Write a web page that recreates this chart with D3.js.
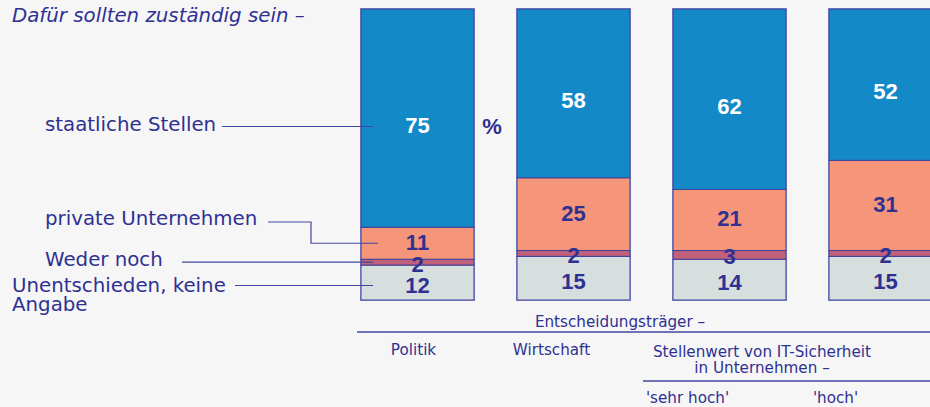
<!DOCTYPE html>
<html>
<head>
<meta charset="utf-8">
<script src="https://cdn.jsdelivr.net/npm/d3@7"></script>
<style>
  body { margin: 0; background: #f6f6f6; }
  svg { display: block; }
  text { font-family: "DejaVu Sans", sans-serif; fill: #2e3192; }
</style>
</head>
<body>
<script>
// bars: Politik, Wirtschaft, IT-Sicherheit 'sehr hoch', 'hoch'
var categories = ["Politik", "Wirtschaft", "sehr hoch", "hoch"];
var seriesNames = ["staatliche Stellen", "private Unternehmen", "Weder noch", "Unentschieden, keine Angabe"];
var staatlich = [75, 58, 62, 52];
var privat = [11, 25, 21, 31];
var weder = [2, 2, 3, 2];
var unentschieden = [12, 15, 14, 15];

var colors = ["#1489c8", "#f5967a", "#c0607a", "#d6dede"];
var ink = "#2e3192";

var W = 930, H = 407;

var svg = d3.select("body").append("svg")
    .attr("width", W)
    .attr("height", H);

svg.append("rect").attr("width", W).attr("height", H).attr("fill", "#f6f6f6");

var x = d3.scaleBand()
    .domain(categories)
    .range([361, 942])
    .paddingInner(43 / 156)
    .paddingOuter(0);

var y = d3.scaleLinear().domain([0, 100]).range([300, 9]);

// stack from top: staatlich on top, unentschieden at bottom
var rows = categories.map(function(c, i) {
    return { cat: c, s0: staatlich[i], s1: privat[i], s2: weder[i], s3: unentschieden[i] };
});
var stack = d3.stack().keys(["s3", "s2", "s1", "s0"]);
var layers = stack(rows);
var colorOf = { s0: colors[0], s1: colors[1], s2: colors[2], s3: colors[3] };
// small vertical nudge of the value labels per segment
var nudge = { s0: 7, s1: -1, s2: 2, s3: 3 };

// outer frame
svg.selectAll("rect.frame")
    .data(categories)
    .enter()
    .append("rect")
    .attr("class", "frame")
    .attr("x", function(d) { return x(d) - 0.5; })
    .attr("y", y(100) - 0.5)
    .attr("width", x.bandwidth() + 1)
    .attr("height", y(0) - y(100) + 1)
    .attr("fill", "none")
    .attr("stroke", "#9a9cce")
    .attr("stroke-width", 1);

var g = svg.selectAll("g.layer")
    .data(layers)
    .enter()
    .append("g")
    .attr("class", "layer")
    .attr("fill", function(d) { return colorOf[d.key]; });

g.selectAll("rect")
    .data(function(d) { return d; })
    .enter()
    .append("rect")
    .attr("x", function(d) { return x(d.data.cat); })
    .attr("y", function(d) { return y(d[1]); })
    .attr("width", x.bandwidth())
    .attr("height", function(d) { return y(d[0]) - y(d[1]); })
    .attr("stroke", "#3d409a")
    .attr("stroke-width", 1);

// value labels
layers.forEach(function(layer) {
    svg.selectAll(null)
        .data(layer)
        .enter()
        .append("text")
        .attr("x", function(d) { return x(d.data.cat) + x.bandwidth() / 2; })
        .attr("y", function(d) { return (y(d[0]) + y(d[1])) / 2 + nudge[layer.key]; })
        .attr("text-anchor", "middle")
        .attr("dominant-baseline", "central")
        .style("font-family", "'Liberation Sans', Arial, sans-serif")
        .style("font-weight", "bold")
        .style("font-size", "22px")
        .style("fill", layer.key == "s0" ? "#ffffff" : ink)
        .text(function(d) { return d[1] - d[0]; });
});

svg.append("text")
    .attr("x", 492).attr("y", 126)
    .attr("text-anchor", "middle")
    .attr("dominant-baseline", "central")
    .style("font-family", "'Liberation Sans', Arial, sans-serif")
    .style("font-weight", "bold")
    .style("font-size", "22px")
    .text("%");

// title
svg.append("text")
    .attr("x", 12).attr("y", 22)
    .style("font-size", "19.8px")
    .style("font-style", "italic")
    .text("Dafür sollten zuständig sein –");

// series labels with leader lines
var bx = x(categories[0]);
function mid(k) {
    var s = layers.filter(function(l) { return l.key == k; })[0][0];
    return (y(s[0]) + y(s[1])) / 2;
}

var leftLabels = [
    { t: seriesNames[0], x: 45, y: 131 },
    { t: seriesNames[1], x: 45, y: 225 },
    { t: seriesNames[2], x: 45, y: 266 },
    { t: "Unentschieden, keine", x: 12, y: 292 },
    { t: "Angabe", x: 12, y: 311 }
];
svg.selectAll("text.series")
    .data(leftLabels)
    .enter()
    .append("text")
    .attr("class", "series")
    .attr("x", function(d) { return d.x; })
    .attr("y", function(d) { return d.y; })
    .style("font-size", "19.8px")
    .text(function(d) { return d.t; });

var line = d3.line();
var leaders = [
    [[222, 126.5], [bx + 12, 126.5]],
    [[268, 222], [311, 222], [311, mid("s1")], [bx + 17, mid("s1")]],
    [[182, mid("s2")], [bx + 12, mid("s2")]],
    [[235, 285.5], [bx + 12, 285.5]]
];
svg.selectAll("path.leader")
    .data(leaders)
    .enter()
    .append("path")
    .attr("class", "leader")
    .attr("d", line)
    .attr("fill", "none")
    .attr("stroke", "#4346a0")
    .attr("stroke-width", 1.2);

// bottom axis labels
svg.append("line")
    .attr("x1", 357).attr("x2", W)
    .attr("y1", 332).attr("y2", 332)
    .attr("stroke", "#4346a0").attr("stroke-width", 1.5);
svg.append("line")
    .attr("x1", 643).attr("x2", W)
    .attr("y1", 381).attr("y2", 381)
    .attr("stroke", "#4346a0").attr("stroke-width", 1.5);

var bottomLabels = [
    { t: "Entscheidungsträger –", x: 620, y: 327 },
    { t: "Politik", x: x("Politik") + x.bandwidth() / 2 - 4, y: 355 },
    { t: "Wirtschaft", x: x("Wirtschaft") + x.bandwidth() / 2 - 22, y: 355 },
    { t: "Stellenwert von IT-Sicherheit", x: 762, y: 356.5 },
    { t: "in Unternehmen –", x: 762, y: 372.5 },
    { t: "'sehr hoch'", x: x("sehr hoch") + x.bandwidth() / 2 - 42, y: 403 },
    { t: "'hoch'", x: x("hoch") + x.bandwidth() / 2 - 50, y: 403 }
];
svg.selectAll("text.bottom")
    .data(bottomLabels)
    .enter()
    .append("text")
    .attr("class", "bottom")
    .attr("x", function(d) { return d.x; })
    .attr("y", function(d) { return d.y; })
    .attr("text-anchor", "middle")
    .style("font-size", "15.2px")
    .text(function(d) { return d.t; });
</script>
</body>
</html>
